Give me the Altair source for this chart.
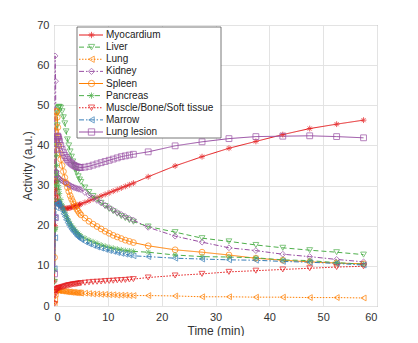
import altair as alt
import pandas as pd

# Time points (min)
time_min = [0.1, 0.2, 0.3, 0.4, 0.5, 0.6, 0.7, 0.8, 0.9, 1.0,
            1.25, 1.5, 1.75, 2.0, 2.25, 2.5, 2.75, 3.0, 3.25, 3.5, 3.75, 4.0, 4.25, 4.5, 4.75, 5.0,
            5.75, 6.5, 7.25, 8.0, 8.75, 9.5, 10.25, 11.0, 11.75, 12.5, 13.25, 14.0, 14.75,
            17.5, 22.5, 27.5, 32.5, 37.5, 42.5, 47.5, 52.5, 57.5]

series_names = ["Myocardium", "Liver", "Lung", "Kidney", "Spleen", "Pancreas",
                "Muscle/Bone/Soft tissue", "Marrow", "Lung lesion"]

myocardium = [6.2, 20.0, 31.0, 31.0, 29.0, 27.5, 26.5, 26.0, 25.5, 25.2,
              24.8, 24.5, 24.4, 24.3, 24.3, 24.3, 24.4, 24.5, 24.6, 24.7, 24.8, 24.9, 25.0, 25.1, 25.3, 25.4,
              25.8, 26.2, 26.6, 27.0, 27.4, 27.8, 28.2, 28.6, 29.0, 29.4, 29.8, 30.2, 30.6,
              32.2, 34.9, 37.2, 39.3, 41.0, 42.7, 44.2, 45.3, 46.3]
liver = [6.0, 19.0, 26.0, 33.0, 40.0, 45.0, 48.0, 49.3, 49.6, 49.6,
         49.4, 48.5, 47.0, 45.5, 43.5, 41.5, 40.0, 38.5, 37.2, 36.0, 35.0, 34.0, 33.2, 32.3, 31.5, 30.9,
         29.5, 28.4, 27.4, 26.5, 25.7, 24.9, 24.2, 23.6, 23.0, 22.4, 21.9, 21.4, 21.0,
         19.8, 18.4, 16.9, 16.1, 15.2, 14.5, 13.9, 13.4, 12.8]
lung = [0.3, 1.5, 3.0, 3.8, 4.0, 4.0, 4.0, 3.9, 3.9, 3.8,
        3.8, 3.7, 3.7, 3.6, 3.6, 3.5, 3.5, 3.5, 3.4, 3.4, 3.4, 3.3, 3.3, 3.3, 3.3, 3.2,
        3.2, 3.1, 3.0, 3.0, 2.9, 2.9, 2.8, 2.8, 2.7, 2.7, 2.7, 2.6, 2.6,
        2.6, 2.5, 2.3, 2.3, 2.2, 2.2, 2.1, 2.1, 2.0]
kidney = [22.3, 62.3, 56.0, 33.5, 31.0, 31.5, 32.0, 32.0, 31.8, 31.6,
          31.4, 31.2, 31.0, 30.8, 30.6, 30.4, 30.2, 30.0, 29.8, 29.7, 29.5, 29.4, 29.3, 29.2, 29.1, 29.0,
          28.3, 27.6, 27.0, 26.3, 25.7, 25.1, 24.5, 23.9, 23.3, 22.8, 22.3, 21.8, 21.4,
          19.6, 17.4, 15.9, 14.5, 13.8, 12.9, 12.3, 11.6, 11.0]
spleen = [12.1, 31.0, 43.5, 48.4, 48.5, 47.0, 44.5, 42.0, 40.0, 38.0,
          36.5, 35.0, 33.5, 32.0, 30.7, 29.5, 28.5, 27.5, 26.7, 26.0, 25.3, 24.7, 24.1, 23.6, 23.1, 22.7,
          21.9, 21.1, 20.4, 19.8, 19.2, 18.6, 18.1, 17.6, 17.2, 16.8, 16.4, 16.1, 15.8,
          15.0, 14.0, 13.4, 12.7, 11.9, 11.4, 11.0, 10.7, 10.5]
pancreas = [9.0, 19.0, 30.0, 37.5, 35.0, 32.5, 31.0, 30.0, 29.0, 28.0,
            26.5, 25.2, 24.2, 23.3, 22.5, 21.8, 21.1, 20.5, 20.0, 19.5, 19.1, 18.7, 18.3, 18.0, 17.7, 17.4,
            16.9, 16.4, 16.0, 15.6, 15.2, 14.9, 14.6, 14.4, 14.2, 14.0, 13.8, 13.7, 13.6,
            13.4, 12.7, 12.3, 12.2, 12.0, 11.5, 11.3, 10.8, 10.4]
muscle = [0.5, 2.8, 3.5, 3.9, 4.1, 4.2, 4.3, 4.4, 4.5, 4.5,
          4.6, 4.7, 4.8, 4.9, 5.0, 5.1, 5.2, 5.2, 5.3, 5.4, 5.4, 5.5, 5.5, 5.6, 5.6, 5.7,
          5.8, 5.9, 6.0, 6.05, 6.1, 6.2, 6.25, 6.3, 6.4, 6.45, 6.5, 6.6, 6.7,
          7.1, 7.6, 8.0, 8.5, 8.8, 9.1, 9.4, 9.7, 9.9]
marrow = [9.3, 17.0, 22.0, 24.5, 25.3, 25.6, 25.6, 25.5, 25.3, 25.0,
          24.5, 23.8, 23.0, 22.3, 21.5, 20.8, 20.2, 19.6, 19.1, 18.7, 18.3, 17.9, 17.5, 17.2, 16.9, 16.6,
          16.0, 15.5, 15.1, 14.7, 14.4, 14.1, 13.8, 13.6, 13.3, 13.1, 12.9, 12.7, 12.5,
          12.3, 11.9, 11.7, 11.5, 11.4, 11.1, 10.9, 10.6, 10.2]
lung_lesion = [8.0, 22.0, 33.0, 39.0, 41.5, 42.3, 42.3, 42.0, 41.5, 41.0,
               40.0, 39.0, 38.2, 37.5, 37.0, 36.5, 36.1, 35.8, 35.5, 35.2, 35.0, 34.8, 34.7, 34.6, 34.5, 34.5,
               34.6, 34.8, 35.1, 35.4, 35.7, 36.0, 36.3, 36.6, 36.9, 37.2, 37.4, 37.6, 37.8,
               38.4, 39.9, 40.9, 41.7, 42.2, 42.3, 42.4, 42.2, 41.9]

all_values = [myocardium, liver, lung, kidney, spleen, pancreas, muscle, marrow, lung_lesion]

colors = ["#e41a1c", "#4daf4a", "#ff7f00", "#984ea3", "#ff7f00",
          "#4daf4a", "#e41a1c", "#377eb8", "#984ea3"]
asterisk = "M-1,0L1,0M0,-1L0,1M-0.7,-0.7L0.7,0.7M-0.7,0.7L0.7,-0.7"
shapes = [asterisk, "triangle-down", "triangle-left", "diamond", "circle",
          asterisk, "triangle-down", "triangle-left", "square"]
dashes = [[1, 0], [5, 3], [1.5, 1.5], [5, 2, 1.5, 2], [1, 0],
          [5, 3], [1.5, 1.5], [5, 2, 1.5, 2], [1, 0]]

rows = []
for name, vals in zip(series_names, all_values):
    for t, v in zip(time_min, vals):
        rows.append({"series": name, "t": t, "v": v})
df = pd.DataFrame(rows)
leg_df = pd.DataFrame({"series": series_names})

color_enc = alt.Color("series:N", scale=alt.Scale(domain=series_names, range=colors), legend=None)
shape_enc = alt.Shape("series:N", scale=alt.Scale(domain=series_names, range=shapes), legend=None)
dash_enc = alt.StrokeDash("series:N", scale=alt.Scale(domain=series_names, range=dashes), legend=None)
order_enc = alt.Order("t:Q")

xenc = alt.X("t:Q", title="Time (min)",
             scale=alt.Scale(domain=[0, 60], nice=False),
             axis=alt.Axis(values=[0, 10, 20, 30, 40, 50, 60], format="d"))
yenc = alt.Y("v:Q", title="Activity (a.u.)",
             scale=alt.Scale(domain=[0, 70], nice=False),
             axis=alt.Axis(values=[0, 10, 20, 30, 40, 50, 60, 70], format="d"))

lines = alt.Chart(df).mark_line(strokeWidth=1, clip=True).encode(
    x=xenc, y=yenc, color=color_enc, strokeDash=dash_enc, detail="series:N", order=order_enc)
points = alt.Chart(df).mark_point(size=34, filled=False, strokeWidth=1, clip=True).encode(
    x=alt.X("t:Q"), y=alt.Y("v:Q"), color=color_enc, shape=shape_enc)

leg_y = alt.Y("series:N", sort=series_names, axis=None,
              scale=alt.Scale(type="point", domain=series_names, range=[10, 107], padding=0))

box = alt.Chart(pd.DataFrame({"a": [0]})).mark_rect(
    fill="white", stroke="#555555", strokeWidth=0.8).encode(
    x=alt.value(23), x2=alt.value(167), y=alt.value(2), y2=alt.value(113))
leg_rule = alt.Chart(leg_df).mark_rule(strokeWidth=1).encode(
    x=alt.value(25), x2=alt.value(49), y=leg_y, color=color_enc, strokeDash=dash_enc)
leg_pt = alt.Chart(leg_df).mark_point(size=40, filled=False, strokeWidth=1).encode(
    x=alt.value(37.5), y=leg_y, color=color_enc, shape=shape_enc)
leg_txt = alt.Chart(leg_df).mark_text(align="left", baseline="middle", fontSize=10,
                                      font="Liberation Sans", color="#222222").encode(
    x=alt.value(52), y=leg_y, text="series:N")

main = alt.layer(lines, points)
legend = alt.layer(box, leg_rule, leg_pt, leg_txt)

chart = alt.layer(main, legend).resolve_scale(y="independent").properties(
    width=323, height=281,
    autosize=alt.AutoSizeParams(type="none"),
    padding={"left": 46, "top": 17, "right": 25, "bottom": 30},
).configure_view(stroke="#8a8a8a", strokeWidth=1).configure_axis(
    grid=True, gridColor="#e3e3e3", gridWidth=1, domain=False,
    ticks=False, labelFont="Liberation Sans", labelFontSize=11, labelColor="#333333",
    titleFont="Liberation Sans", titleFontSize=12, titleColor="#333333",
    titleFontWeight="normal", labelPadding=5,
).configure_axisX(titlePadding=3).configure_axisY(titlePadding=2)

chart.save("out.html", embed_options={"renderer": "svg", "actions": False})
